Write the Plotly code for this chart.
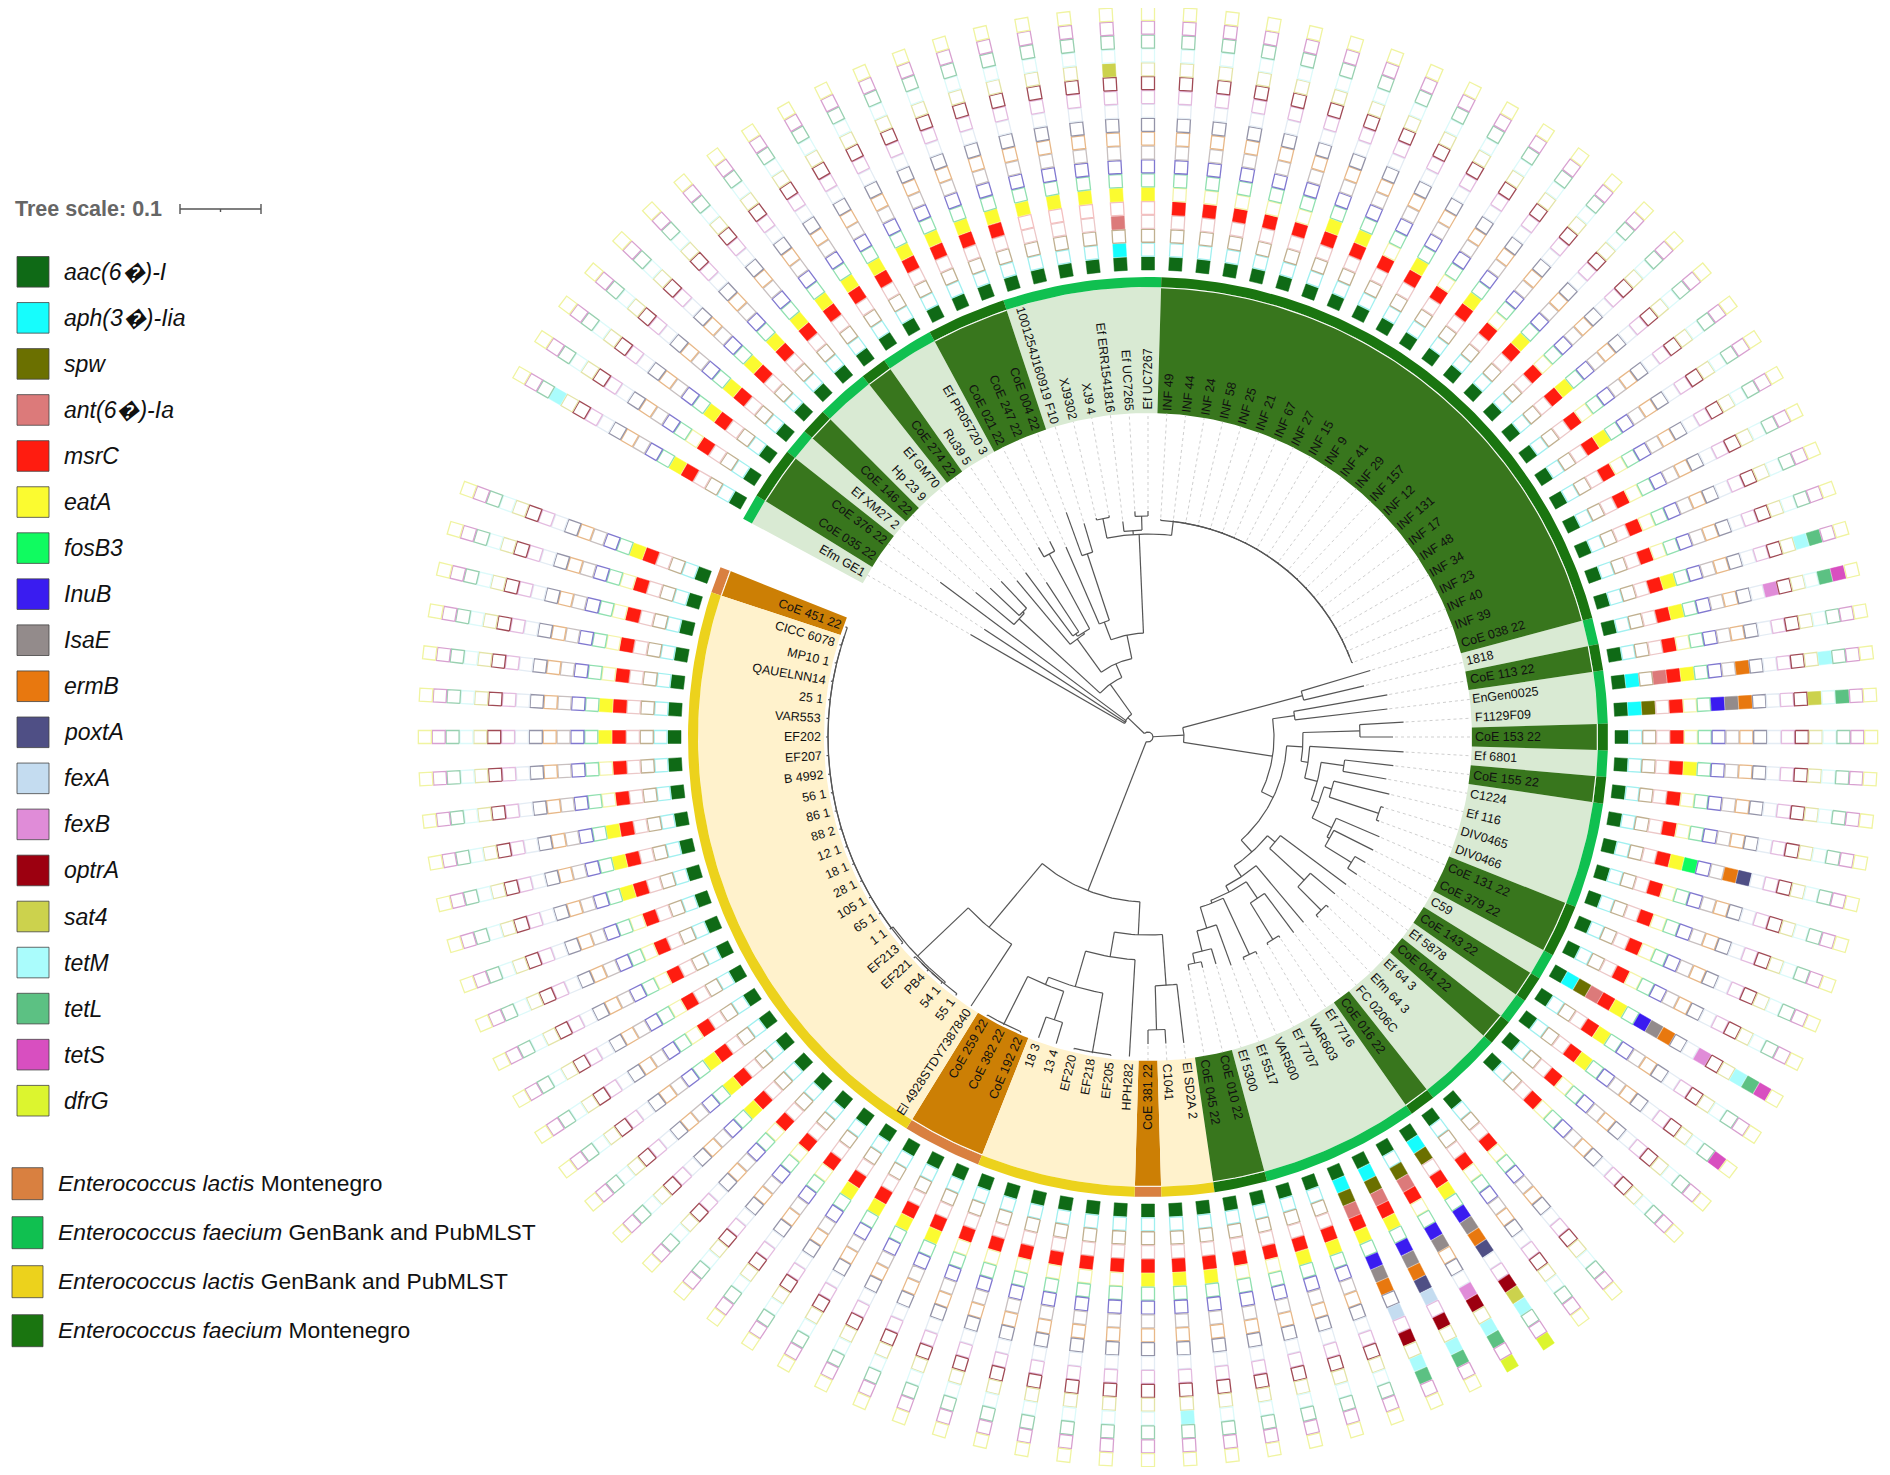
import math
from itertools import groupby
import plotly.graph_objects as go

# leaves, clockwise starting from Efm GE1
leaves = ["Efm GE1", "CoE 035 22", "CoE 376 22", "Ef XM27 2", "CoE 146 22", "Hp 23 9", "Ef GM70", "CoE 274 22",
          "Ru39 5", "Ef PR05720 3", "CoE 021 22", "CoE 247 22", "CoE 004 22", "1001254J160919 F10", "XJ9302",
          "XJ9 4", "Ef ERR1541816", "Ef UC7265", "Ef UC7267", "INF 49", "INF 44", "INF 24", "INF 58", "INF 25",
          "INF 21", "INF 67", "INF 27", "INF 15", "INF 9", "INF 41", "INF 29", "INF 157", "INF 12", "INF 131",
          "INF 17", "INF 48", "INF 34", "INF 23", "INF 40", "INF 39", "CoE 038 22", "1818", "CoE 113 22",
          "EnGen0025", "F1129F09", "CoE 153 22", "Ef 6801", "CoE 155 22", "C1224", "Ef 116", "DIV0465", "DIV0466",
          "CoE 131 22", "CoE 379 22", "C59", "CoE 143 22", "Ef 5878", "CoE 041 22", "Ef 64 3", "Efm 64 3",
          "FC 0206C", "CoE 016 22", "Ef 7716", "VAR603", "Ef 7707", "VAR500", "Ef 5517", "Ef 5300", "CoE 010 22",
          "CoE 045 22", "El SD2A 2", "C1041", "CoE 381 22", "HPH282", "EF205", "EF218", "EF220", "13 4", "18 3",
          "CoE 192 22", "CoE 382 22", "CoE 259 22", "El 4928STDY7387840", "55 1", "54 1", "PB4", "EF221", "EF213",
          "1 1", "65 1", "105 1", "28 1", "18 1", "12 1", "88 2", "86 1", "56 1", "B 4992", "EF207", "EF202",
          "VAR553", "25 1", "QAUELNN14", "MP10 1", "CICC 6078", "CoE 451 22"]

# distance of each branch tip from the centre
tip_radius = [205, 196, 259, 225, 217, 214, 204, 205, 185, 219, 219, 207, 239, 223, 225, 225, 217, 226, 226,
              218, 218, 218, 218, 218, 218, 218, 218, 218, 218, 218, 218, 218, 218, 218, 218, 218, 218, 218, 218, 218,
              232, 222, 243, 241, 256, 245, 256, 247, 242, 248, 246, 246, 252, 252, 251, 250, 247, 244, 248, 248,
              242, 244, 240, 240, 243, 243, 243, 237, 237, 237,
              308, 307, 307, 320, 321, 321, 321, 320, 320, 322, 322, 322, 322,
              322, 322, 322, 322, 322, 322, 322, 322, 322, 322, 322, 322, 322, 322, 322, 322, 322, 322, 322, 322, 322, 322, 322, 322]

genes = ["aac(6\ufffd)-I", "aph(3\ufffd)-Iia", "spw", "ant(6\ufffd)-Ia", "msrC", "eatA", "fosB3", "InuB", "IsaE",
         "ermB", "poxtA", "fexA", "fexB", "optrA", "sat4", "tetM", "tetL", "tetS", "dfrG"]
gene_colors = ["#0f6a16", "#16fdfd", "#6b7000", "#dc7a7a", "#ff1c10", "#fbfb30", "#10fb60", "#3a1cf0", "#938b8b",
               "#e8780f", "#4f4f85", "#c4dcf0", "#e08cd8", "#9c0010", "#ccd24d", "#aafcfc", "#5cc183", "#d84fc0",
               "#dcf52f"]
empty_colors = ["#0f6a16", "#a0f0f0", "#c0b090", "#ecc8c8", "#f4c0c0", "#f4f4a8", "#90e0b0", "#8078d0", "#c8c0c0",
                "#e8b888", "#9494a8", "#e4ecf4", "#e4bce0", "#a04a55", "#e4e4a8", "#dcfafa", "#98d0b0", "#d8a0d0",
                "#f0f4a0"]

# leaves carrying each gene (aac is in every row that has data)
no_row = [59]
aac_hits = [i for i in range(len(leaves)) if i not in no_row]
aph_hits = [17, 43, 44, 54, 62, 64, 65]
spw_hits = [44, 54, 62, 63, 64, 65]
ant_hits = [17, 43, 54, 63, 64, 65]
msrc_hits = [i for i in aac_hits if i not in (14, 15, 16, 17, 18)]
eata_hits = [0, 2, 3, 4, 5, 6, 7, 8, 9, 10, 11, 12, 13, 14, 15, 16, 17, 18, 24, 25, 27, 29, 31, 33, 35, 40, 41, 43, 46,
             49, 54, 55, 56, 62, 64, 65, 66, 67, 70, 71, 72, 79, 80, 81, 82, 86, 87, 88, 94, 95, 96, 99, 100, 105]
fosb_hits = [49]
lnub_hits = [44, 54, 62, 63, 64, 65]
lsae_hits = [44, 54, 62, 63, 64, 65]
ermb_hits = [43, 44, 49, 54, 62, 64, 65]
poxta_hits = [49, 62, 64]
fexa_hits = [64, 65]
fexb_hits = [41, 54, 63]
optra_hits = [62, 63, 64, 65]
sat4_hits = [17, 44, 62]
tetm_hits = [0, 40, 43, 54, 62, 63, 64, 65, 71]
tetl_hits = [40, 41, 44, 54, 63, 64, 65]
tets_hits = [41, 54, 56]
dfrg_hits = [62, 63]
gene_hits = [aac_hits, aph_hits, spw_hits, ant_hits, msrc_hits, eata_hits, fosb_hits, lnub_hits, lsae_hits, ermb_hits,
             poxta_hits, fexa_hits, fexb_hits, optra_hits, sat4_hits, tetm_hits, tetl_hits, tets_hits, dfrg_hits]

group_names = ["<i>Enterococcus lactis</i> Montenegro", "<i>Enterococcus faecium</i> GenBank and PubMLST",
               "<i>Enterococcus lactis</i> GenBank and PubMLST", "<i>Enterococcus faecium</i> Montenegro"]
ring_colors = ["#d98040", "#10c050", "#ecd21c", "#1a7510"]
clade_colors = ["#cc7f05", "#d9ead3", "#fff2cc", "#38761d"]
first_lactis = 70


def comb(first, last, r):
    # star of near identical leaves, iTOL draws these as a ladder
    if first == last:
        return first
    return (r, [first, comb(first + 1, last, r)])


# tree: (node radius, children), an int child is a leaf
xj_node = (223, [14, 15])
uc_node = (207, [16, (221, [17, 18])])
top_node = (123, [11, (193, [12, 13])])
inf_node = (203, [xj_node, uc_node, comb(19, 39, 217)])
efgm_node = (121, [6, (123, [(126, [7, 8]), (208, [9, 10])])])
mid_node = (80, [efgm_node, (104, [top_node, inf_node])])
upper_node = (28, [(27, [0, 1, 2]), (65, [(175, [3, (177, [4, 5])]), mid_node])])

div_node = (183, [(191, [49, (243, [50, 51])]), (205, [52, (208, [53, (239, [54, 55])])])])
c_node = (162, [46, (175, [(198, [47, 48]), div_node])])
low_node = (175, [(195, [61, (238, [62, 63])]),
                  (178, [(240, [64, 65]), (200, [66, (221, [67, (231, [68, 69])])])])])
var_node = (155, [(165, [56, (212, [57, (245, [58, 59])])]), (168, [60, low_node])])
right_node = (36, [(160, [40, 41]),
                   (126, [(148, [42, 43]),
                          (139, [(155, [(212, [44, 45]), c_node]), var_node])])])

star_node = (318, [comb(83, 86, 320), comb(87, 105, 320)])
lactis_left = (248, [star_node, 82])
lactis_mid = (260, [(268, [(321, [79, 80, 81]), (298, [77, 78])]), (320, [74, 75, 76])])
lactis_right = (198, [(223, [lactis_mid, 73]), (249, [(293, [72, 71]), 70])])
lactis_node = (165, [lactis_left, lactis_right])
tree = (5, [upper_node, right_node, lactis_node])

# picture geometry, in pixels of the 1890x1475 page
cx, cy = 1148, 737
step = 360 / 108
zero_leaf = 18
clade_in, clade_out = 324, 450
ring_in, ring_out = 450, 460
cell_in, cell_pitch, cell_size = 467, 13.87, 13
label_r = 327
label_size = 12.5


def angle(i):
    return (i - zero_leaf) * step


def pt(r, a):
    t = math.radians(a)
    return cx + r * math.sin(t), cy - r * math.cos(t)


def add_path(xs, ys, pts):
    xs.extend(p[0] for p in pts)
    ys.extend(p[1] for p in pts)
    xs.append(None)
    ys.append(None)


def arc(r, a0, a1):
    n = max(2, int(abs(a1 - a0)) + 2)
    return [pt(r, a0 + (a1 - a0) * k / (n - 1)) for k in range(n)]


def sector(r0, r1, a0, a1):
    return arc(r1, a0, a1) + arc(r0, a1, a0)


def cell(i, k):
    a = angle(i)
    t = math.radians(a)
    r0 = cell_in + k * cell_pitch
    r1 = r0 + cell_size
    ox, oy = math.cos(t) * cell_size / 2, math.sin(t) * cell_size / 2
    x0, y0 = pt(r0, a)
    x1, y1 = pt(r1, a)
    return [(x0 - ox, y0 - oy), (x1 - ox, y1 - oy), (x1 + ox, y1 + oy), (x0 + ox, y0 + oy), (x0 - ox, y0 - oy)]


# Arial widths, per 1000, to place rotated labels from their inner end
char_w = {" ": 278, ".": 278, "A": 667, "B": 667, "C": 722, "D": 722, "E": 667, "F": 611, "G": 778, "H": 722, "I": 278,
          "J": 500, "K": 667, "L": 556, "M": 833, "N": 722, "O": 778, "P": 667, "Q": 778, "R": 722, "S": 667, "T": 611,
          "U": 722, "V": 667, "W": 944, "X": 667, "Y": 667, "Z": 611, "a": 556, "b": 556, "c": 500, "d": 556, "e": 556,
          "f": 278, "g": 556, "h": 556, "i": 222, "j": 222, "k": 500, "l": 222, "m": 833, "n": 556, "o": 556, "p": 556,
          "q": 556, "r": 333, "s": 500, "t": 278, "u": 556, "v": 500, "w": 722, "x": 500, "y": 500, "z": 500}


def text_width(s):
    return sum(char_w.get(c, 556) for c in s) * label_size / 1000


def leaf_group(i):
    mont = leaves[i].startswith("CoE") or leaves[i].startswith("INF")
    if i >= first_lactis:
        return 0 if mont else 2
    return 3 if mont else 1


fig = go.Figure()

# clade backgrounds and the outer ring
for g in range(4):
    bx, by, rx, ry = [], [], [], []
    for key, run in groupby(range(len(leaves)), leaf_group):
        run = list(run)
        if key != g:
            continue
        a0, a1 = angle(run[0]) - step / 2, angle(run[-1]) + step / 2
        add_path(bx, by, sector(clade_in, clade_out, a0, a1))
        add_path(rx, ry, sector(ring_in, ring_out, a0, a1))
    fig.add_trace(go.Scatter(x=bx, y=by, mode="lines", fill="toself", fillcolor=clade_colors[g],
                             line=dict(width=0, color=clade_colors[g]), hoverinfo="skip"))
    fig.add_trace(go.Scatter(x=rx, y=ry, mode="lines", fill="toself", fillcolor=ring_colors[g],
                             line=dict(width=0, color=ring_colors[g]), hoverinfo="skip"))

# thin white edge on the Montenegro clades
wx, wy = [], []
for key, run in groupby(range(len(leaves)), leaf_group):
    run = list(run)
    if key in (0, 3):
        add_path(wx, wy, arc(clade_out - 0.5, angle(run[0]) - step / 2, angle(run[-1]) + step / 2))
fig.add_trace(go.Scatter(x=wx, y=wy, mode="lines", line=dict(color="white", width=1.1), hoverinfo="skip"))

# dotted lines from tip to label
dx, dy = [], []
for i in range(len(leaves)):
    if tip_radius[i] < clade_in - 6:
        add_path(dx, dy, [pt(tip_radius[i] + 2, angle(i)), pt(clade_in, angle(i))])
fig.add_trace(go.Scatter(x=dx, y=dy, mode="lines", line=dict(color="#cfcfcf", width=1, dash="3px,3px"),
                         hoverinfo="skip"))

# tree branches
tx, ty = [], []


def walk(node, parent_r):
    if isinstance(node, int):
        a = angle(node)
        add_path(tx, ty, [pt(parent_r, a), pt(tip_radius[node], a)])
        return a
    r, children = node
    angles = [walk(c, r) for c in children]
    add_path(tx, ty, arc(r, angles[0], angles[-1]))
    a = (angles[0] + angles[-1]) / 2
    if parent_r is not None:
        add_path(tx, ty, [pt(parent_r, a), pt(r, a)])
    return a


walk(tree, None)
fig.add_trace(go.Scatter(x=tx, y=ty, mode="lines", line=dict(color="#555555", width=1.2), hoverinfo="skip"))

# gene matrix, one trace of empty boxes and one of filled boxes per gene
for k, hits in enumerate(gene_hits):
    ex, ey, fx, fy = [], [], [], []
    for i in range(len(leaves)):
        if i in no_row:
            continue
        if i in hits:
            add_path(fx, fy, cell(i, k))
        else:
            add_path(ex, ey, cell(i, k))
    if ex:
        fig.add_trace(go.Scatter(x=ex, y=ey, mode="lines", line=dict(color=empty_colors[k], width=1.3),
                                 hoverinfo="skip"))
    fig.add_trace(go.Scatter(x=fx, y=fy, mode="lines", fill="toself", fillcolor=gene_colors[k],
                             line=dict(color=gene_colors[k], width=0.5), hoverinfo="skip"))

annotations = []
for i, name in enumerate(leaves):
    a = angle(i)
    right_side = 0 <= a < 179
    rot = a - 90 if right_side else a - 270
    if rot > 180:
        rot -= 360
    x, y = pt(label_r + text_width(name) / 2, a)
    annotations.append(dict(x=x, y=y, text=name, textangle=rot, showarrow=False, xanchor="center", yanchor="middle",
                            borderpad=0, font=dict(family="Liberation Sans", size=label_size, color="#111111")))

# legends
shapes = []
for k, name in enumerate(genes):
    yc = 271.8 + 46.05 * k
    shapes.append(dict(type="rect", x0=17, x1=49, y0=yc - 15.3, y1=yc + 15.3, fillcolor=gene_colors[k],
                       line=dict(color="#444444", width=0.8)))
    annotations.append(dict(x=61.5, y=yc, text="<i>" + name + "</i>", showarrow=False, xanchor="left",
                            yanchor="middle", font=dict(family="Liberation Sans", size=23, color="#111111")))
for k, name in enumerate(group_names):
    yc = 1183.7 + 49 * k
    shapes.append(dict(type="rect", x0=12, x1=43, y0=yc - 16, y1=yc + 16, fillcolor=ring_colors[k],
                       line=dict(color="#444444", width=0.8)))
    annotations.append(dict(x=55.5, y=yc - 1, text=name, showarrow=False, xanchor="left", yanchor="middle",
                            font=dict(family="Liberation Sans", size=22.8, color="#111111")))

annotations.append(dict(x=12.5, y=209, text="<b>Tree scale: 0.1</b>", showarrow=False, xanchor="left",
                        yanchor="middle", font=dict(family="Liberation Sans", size=21.5, color="#666666")))
for x0, y0, x1, y1 in [(180, 209, 261, 209), (180, 204, 180, 214), (261, 204, 261, 214), (220.5, 209, 220.5, 212)]:
    shapes.append(dict(type="line", x0=x0, x1=x1, y0=y0, y1=y1, line=dict(color="#555555", width=1.4)))

# browsers keep an 8px body margin, so the axes start at 8
fig.update_layout(width=1874, height=1459, margin=dict(l=0, r=0, t=0, b=0), showlegend=False,
                  paper_bgcolor="white", plot_bgcolor="white", annotations=annotations, shapes=shapes,
                  xaxis=dict(range=[8, 1882], visible=False), yaxis=dict(range=[1467, 8], visible=False))

fig.write_html("out.html")
